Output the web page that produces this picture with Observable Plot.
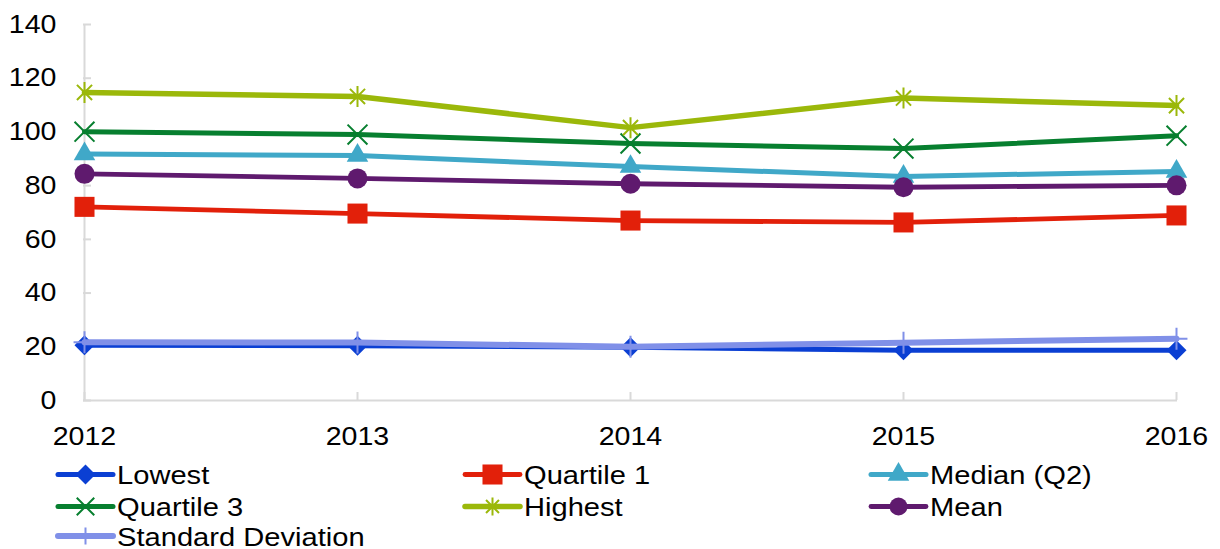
<!DOCTYPE html>
<html><head><meta charset="utf-8">
<script src="https://cdn.jsdelivr.net/npm/d3@7"></script>
<script src="https://cdn.jsdelivr.net/npm/@observablehq/plot@0.6"></script>
<style>body{margin:0;background:#fff;font-family:"Liberation Sans",Arial,sans-serif}</style>
</head><body><div id="chart"></div>
<script>
const years = ["2012", "2013", "2014", "2015", "2016"];
const yTicks = [0, 20, 40, 60, 80, 100, 120, 140];
const seriesNames = ["Lowest", "Quartile 1", "Median (Q2)", "Quartile 3", "Highest", "Mean", "Standard Deviation"];
const lowest = [20.6, 20.4, 19.8, 18.7, 18.7];
const quartile1 = [72.1, 69.6, 67.0, 66.3, 68.9];
const median = [91.8, 91.2, 87.1, 83.4, 85.3];
const quartile3 = [100.1, 99.0, 95.7, 93.8, 98.6];
const highest = [114.7, 113.2, 101.6, 112.6, 109.8];
const mean = [84.4, 82.7, 80.7, 79.4, 80.1];
const stdDev = [21.7, 21.6, 20.0, 21.5, 23.0];

const asteriskSym = {
  draw(ctx, size) {
    const r = Math.sqrt(size / Math.PI);
    const a = r * 0.72;
    ctx.moveTo(0, -r); ctx.lineTo(0, r);
    ctx.moveTo(-a, -a); ctx.lineTo(a, a);
    ctx.moveTo(-a, a); ctx.lineTo(a, -a);
  }
};

const styles = [
  {values: lowest, color: "#0b3fd3", symbol: "diamond2", d3sym: d3.symbolDiamond2, r: 9, lr: 9, sw: 5, filled: true},
  {values: quartile1, color: "#e2200a", symbol: "square", d3sym: d3.symbolSquare, r: 11.3, lr: 11.3, sw: 4.8, filled: true},
  {values: median, color: "#40a8c8", symbol: "triangle", d3sym: d3.symbolTriangle, r: 8, lr: 8, sw: 5, filled: true},
  {values: quartile3, color: "#077f2f", symbol: "times", d3sym: d3.symbolTimes, r: 9.1, lr: 8, sw: 5, filled: false},
  {values: highest, color: "#9bb80a", symbol: asteriskSym, d3sym: asteriskSym, r: 10.5, lr: 9, sw: 5.5, filled: false},
  {values: mean, color: "#5f1a6e", symbol: "circle", d3sym: d3.symbolCircle, r: 10, lr: 9, sw: 4.8, filled: true},
  {values: stdDev, color: "#8090e8", symbol: "plus", d3sym: d3.symbolPlus, r: 7.1, lr: 5.5, sw: 6, filled: false}
];

const font = '"Liberation Sans", Arial, sans-serif';
const marks = [
  Plot.ruleX([years[0]], {stroke: "#d9d9d9", strokeWidth: 2}),
  Plot.ruleY([0], {stroke: "#d9d9d9", strokeWidth: 2}),
  Plot.axisY(yTicks, {tickSize: 8, dx: 8, tickFormat: () => "", stroke: "#d9d9d9", strokeWidth: 2, label: null}),
  Plot.axisY(yTicks, {tickSize: 0, tickPadding: 27, fontSize: 25.5, fill: "#000", label: null}),
  Plot.axisX(years, {tickSize: 8, dy: -8, tickFormat: () => "", stroke: "#d9d9d9", strokeWidth: 2, label: null}),
  Plot.axisX(years, {tickSize: 0, tickPadding: 26, fontSize: 25.5, fill: "#000", label: null})
];
styles.forEach((s, k) => {
  const data = years.map((y, i) => ({year: y, value: s.values[i], series: seriesNames[k]}));
  marks.push(Plot.line(data, {x: "year", y: "value", stroke: s.color, strokeWidth: s.sw, strokeLinejoin: "round", strokeLinecap: "round"}));
  marks.push(Plot.dot(data, s.filled
    ? {x: "year", y: "value", symbol: () => s.symbol, r: s.r, fill: s.color, stroke: "none"}
    : {x: "year", y: "value", symbol: () => s.symbol, r: s.r, fill: "none", stroke: s.color, strokeWidth: 2}));
});

const plot = Plot.plot({
  width: 1220, height: 549,
  marginLeft: 83, marginRight: 43, marginTop: 24, marginBottom: 149,
  style: {fontFamily: font, color: "#000", background: "#fff"},
  x: {type: "point", domain: years, padding: 0, label: null, axis: null},
  y: {domain: [0, 140], label: null, axis: null},
  symbol: {type: "identity"},
  marks
});
document.getElementById("chart").appendChild(plot);

const svg = d3.select(plot);
// horizontally widen tick labels to match the reference's wide glyphs
svg.selectAll('g[aria-label$="tick label"] text').each(function () {
  const t = this.getAttribute("transform") || "";
  this.setAttribute("transform", t + " scale(1.12,1)");
});

// legend
const cols = [58, 465, 871];
const rows = [474.5, 506.5, 536];
const lg = svg.append("g").attr("text-anchor", "start");
seriesNames.forEach((name, i) => {
  const s = styles[i];
  const x = cols[i % 3], y = rows[Math.floor(i / 3)];
  const g = lg.append("g");
  g.append("line").attr("x1", x).attr("x2", x + 55).attr("y1", y).attr("y2", y)
    .attr("stroke", s.color).attr("stroke-width", s.sw).attr("stroke-linecap", "round");
  const path = d3.symbol().type(s.d3sym).size(Math.PI * s.lr * s.lr)();
  const p = g.append("path").attr("d", path).attr("transform", `translate(${x + 27.5},${y})`);
  if (s.filled) p.attr("fill", s.color);
  else p.attr("fill", "none").attr("stroke", s.color).attr("stroke-width", 2);
  g.append("text").attr("transform", `translate(${x + 59},${y + 9.5}) scale(1.12,1)`)
    .attr("font-size", 26).attr("font-family", font).attr("fill", "#000").text(name);
});
</script>
</body></html>
